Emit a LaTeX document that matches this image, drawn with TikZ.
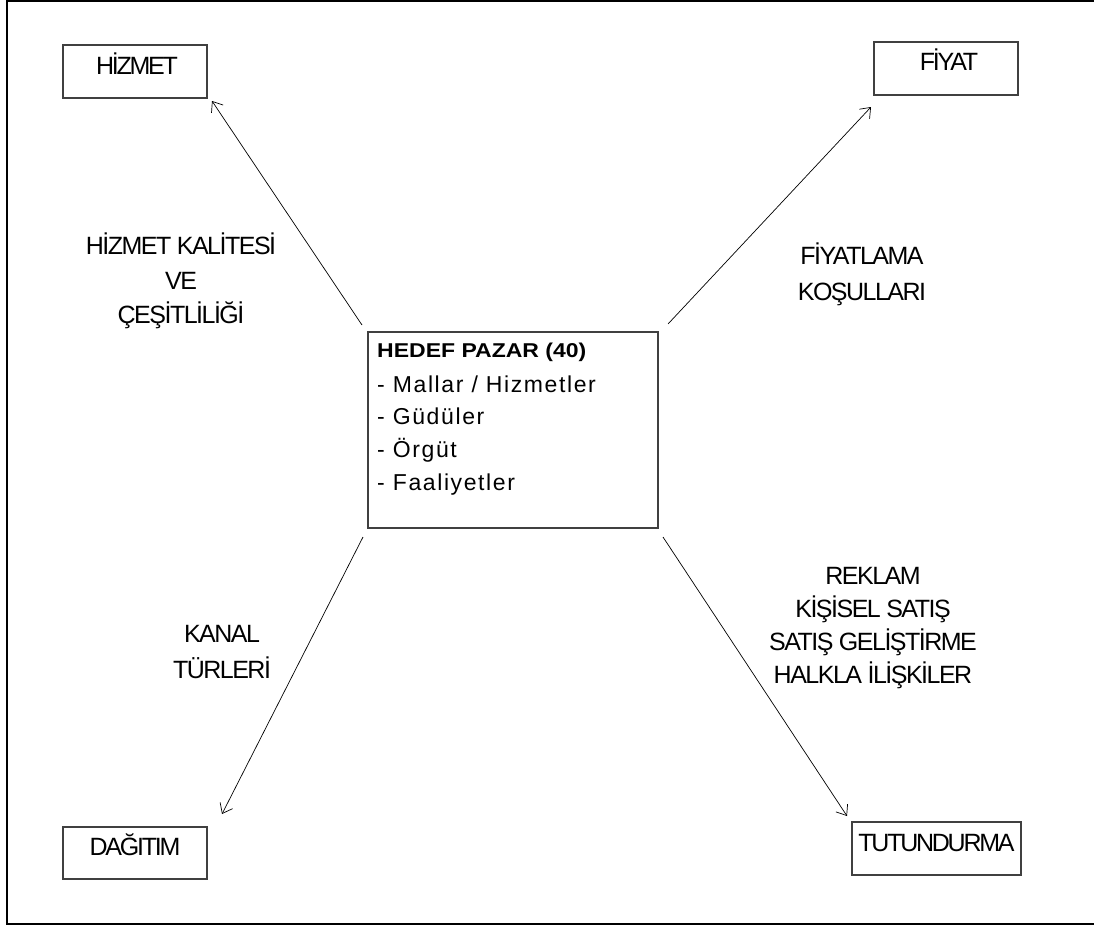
\documentclass[tikz,border=0pt]{standalone}
\usepackage{fontspec}
\usepackage{graphicx}
\usetikzlibrary{arrows.meta}
\setmainfont{Liberation Sans}
\newfontfamily\labfont[LetterSpace=-6]{Liberation Sans}
\newfontfamily\boxfont[LetterSpace=-9]{Liberation Sans}
\newfontfamily\ctrfont[LetterSpace=7]{Liberation Sans}
\newfontfamily\ctrbold{Liberation Sans Bold}
\begin{document}
\begin{tikzpicture}[x=1pt,y=-1pt,
  box/.style={draw=black!75,line width=1.2pt,inner sep=0pt},
  boxtext/.style={font=\boxfont\fontsize{25}{30}\selectfont,anchor=base,inner sep=0pt},
  lab/.style={font=\labfont\fontsize{25}{34.5}\selectfont,align=center,inner sep=0pt,anchor=north},
  arr/.style={-{Straight Barb[length=9pt,width=14pt]},line width=0.7pt}]
\useasboundingbox (0,0) rectangle (1094,929);
\draw[line width=1.5pt] (1094,1) -- (7,1) -- (7,924) -- (1094,924);
% boxes
\node[box,minimum width=144pt,minimum height=53pt] (hiz) at (135,71.5) {};
\node[boxtext] (hizt) at (137,74) {HİZMET};
\node[box,minimum width=144pt,minimum height=53pt] (fiy) at (946,68.5) {};
\node[boxtext] (fiyt) at (949,70) {FİYAT};
\node[box,minimum width=144pt,minimum height=52pt] (dag) at (135,853) {};
\node[boxtext] (dagt) at (135,855) {DAĞITIM};
\node[box,minimum width=169pt,minimum height=53pt] (tut) at (936.5,848.5) {};
\node[boxtext] (tutt) at (936.5,851) {TUTUNDURMA};
% centre
\node[box,minimum width=290pt,minimum height=196pt] (ctr) at (513,430) {};
\node[font=\ctrfont\fontsize{23}{32.6}\selectfont,align=left,anchor=north west,inner sep=0pt] (ctrtxt) at (377,343)
  {\scalebox{1.15}[1]{\ctrbold\fontsize{20}{22}\selectfont HEDEF PAZAR (40)}\\[2pt]- Mallar / Hizmetler\\- Güdüler\\- Örgüt\\- Faaliyetler};
% connectors
\coordinate (c1) at (362,325);
\coordinate (c2) at (668,324);
\coordinate (c3) at (363,537);
\coordinate (c4) at (663,537);
\draw[arr] (c1) -- (212,101) coordinate (h1);
\draw[arr] (c2) -- (871,107) coordinate (f1);
\draw[arr] (c3) -- (222,814) coordinate (d1);
\draw[arr] (c4) -- (847,816) coordinate (t1);
% labels
\node[lab] (l1) at (181,233) {HİZMET KALİTESİ\\VE\\ÇEŞİTLİLİĞİ};
\node[lab,font=\labfont\fontsize{25}{36}\selectfont] (l2) at (862,243) {FİYATLAMA\\KOŞULLARI};
\node[lab,font=\labfont\fontsize{25}{36}\selectfont] (l3) at (222,625) {KANAL\\TÜRLERİ};
\node[lab,font=\labfont\fontsize{25}{33}\selectfont] (l4) at (873,567) {REKLAM\\KİŞİSEL SATIŞ\\SATIŞ GELİŞTİRME\\HALKLA İLİŞKİLER};
\end{tikzpicture}
\end{document}
